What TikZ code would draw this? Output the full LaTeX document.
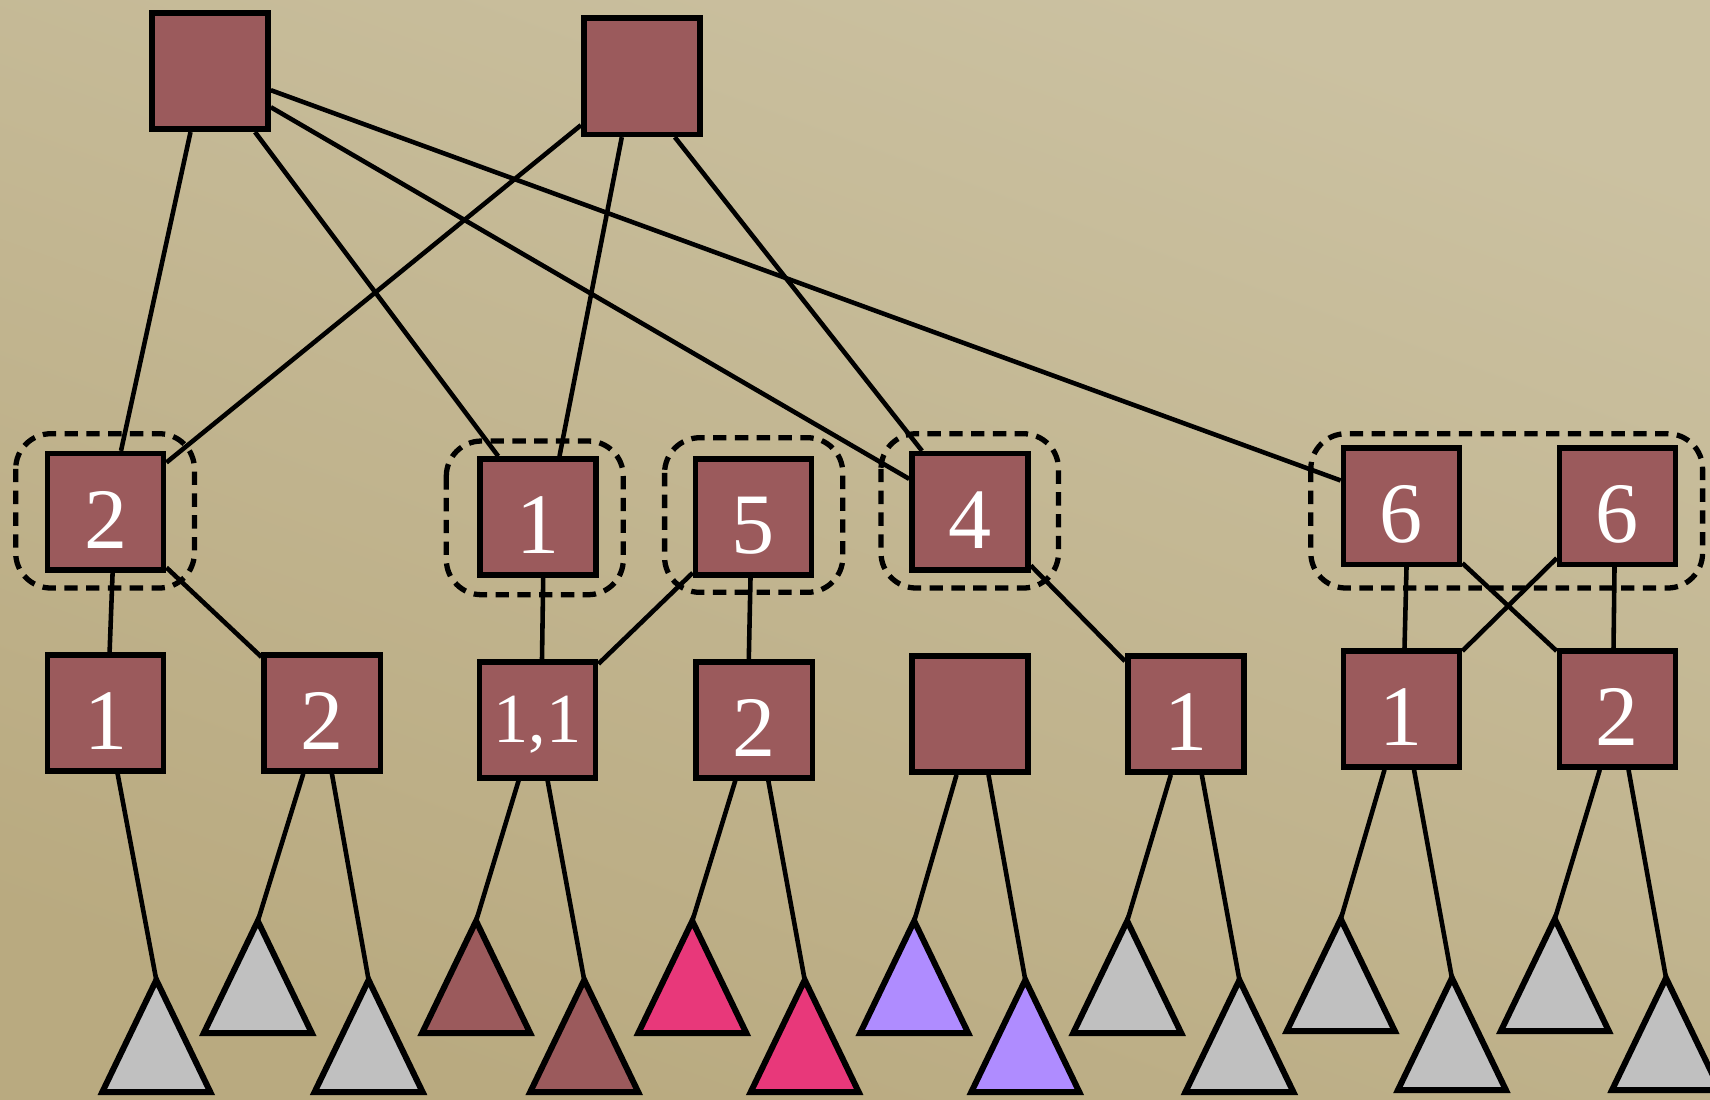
\documentclass[tikz,border=0pt]{standalone}
\usepackage{fontspec}
\setmainfont{Liberation Serif}
\usetikzlibrary{calc}
\definecolor{bgtop}{HTML}{CBC1A1}
\definecolor{bgbot}{HTML}{B9AA80}
\definecolor{boxred}{HTML}{9B5A5C}
\definecolor{trigray}{HTML}{C0C0C0}
\definecolor{tripink}{HTML}{E8387A}
\definecolor{tripurple}{HTML}{AF8CFF}
\begin{document}
\begin{tikzpicture}[x=0.01cm,y=-0.01cm,
  box/.style={draw=black, line width=1.6pt, fill=boxred, minimum size=1.16cm,
    inner sep=0pt, text=white, font=\fontsize{24.5}{24.5}\selectfont,
    text height=20.8pt, text depth=0pt},
  smalllabel/.style={font=\fontsize{20}{20}\selectfont, text height=13.2pt},
  edge/.style={draw=black, line width=1.3pt},
  tri/.style={draw=black, line width=1.7pt, line join=miter},
  group/.style={draw=black, line width=1.5pt, dash pattern=on 3.8pt off 2.4pt, rounded corners=10pt}]
\useasboundingbox (0,0) rectangle (1710,1099);
\shade[top color=bgtop, bottom color=bgbot, shading angle=-20] (0,0) rectangle (1710,1099);

% top nodes
\node[box] (A) at (210,71.2) {};
\node[box] (B) at (641.8,76.3) {};
% middle nodes
\node[box] (M2) at (105.6,511.7) {2};
\node[box] (M1) at (538.2,517) {1};
\node[box] (M5) at (753.5,517) {5};
\node[box] (M4) at (970,511.7) {4};
\node[box] (M6a) at (1401.5,506.3) {6};
\node[box] (M6b) at (1617.5,506.3) {6};
% lower nodes
\node[box] (L1) at (105.6,712.8) {1};
\node[box] (L2) at (322.3,712.8) {2};
\node[box,smalllabel] (L11) at (537.6,719.7) {1,1};
\node[box] (L2b) at (754.3,719.7) {2};
\node[box] (Le) at (970,714) {};
\node[box] (L1c) at (1185.8,714) {1};
\node[box] (L1d) at (1401.5,708.8) {1};
\node[box] (L2d) at (1617.5,708.8) {2};

% dashed groups
\draw[group] (15.7,433.7) rectangle (194.4,588);
\draw[group] (446.3,441) rectangle (623.3,594.7);
\draw[group] (664.6,437.7) rectangle (842.8,592.3);
\draw[group] (881,433.7) rectangle (1058.5,588);
\draw[group] (1310.8,433.7) rectangle (1702.6,588);

% top-level edges
\draw[edge] ($(A.south)+(-19.5,0)$) -- ($(M2.north)+(15.4,0)$);
\draw[edge] ($(A.south)+(45,0)$) -- ($(M1.north)+(-40,0)$);
\draw[edge] ($(A.east)+(0,36)$) -- ($(M4.north west)+(0,28)$);
\draw[edge] ($(A.east)+(0,19)$) -- ($(M6a.north west)+(0,35)$);
\draw[edge] ($(B.south west)+(0,-12)$) -- ($(M2.north east)+(0,11.6)$);
\draw[edge] ($(B.south)+(-20,0)$) -- ($(M1.north)+(21.3,0)$);
\draw[edge] ($(B.south)+(33,0)$) -- ($(M4.north)+(-48,0)$);

% middle-level edges
\draw[edge] ($(M2.south)+(7,0)$) -- ($(L1.north)+(4,0)$);
\draw[edge] ($(M2.south east)+(0,-5)$) -- ($(L2.north west)+(0,5)$);
\draw[edge] ($(M1.south)+(5,0)$) -- ($(L11.north)+(4.4,0)$);
\draw[edge] ($(M5.south west)+(0,-5)$) -- ($(L11.north east)+(0,5)$);
\draw[edge] ($(M5.south)+(-3,0)$) -- ($(L2b.north)+(-5.5,0)$);
\draw[edge] ($(M4.south east)+(0,-7)$) -- ($(L1c.north west)+(0,8)$);
\draw[edge] ($(M6a.south)+(5,0)$) -- ($(L1d.north)+(3,0)$);
\draw[edge] ($(M6a.south east)+(0,-4)$) -- ($(L2d.north west)+(0,3)$);
\draw[edge] ($(M6b.south west)+(0,-9)$) -- ($(L1d.north east)+(0,3)$);
\draw[edge] ($(M6b.south)+(-3,0)$) -- ($(L2d.north)+(-4,0)$);

% triangle apexes
\coordinate (T1) at (156.3,980);
\coordinate (T2) at (257.8,921);
\coordinate (T3) at (368.6,980);
\coordinate (T4) at (476.1,921);
\coordinate (T5) at (584.2,980);
\coordinate (T6) at (692.3,921);
\coordinate (T7) at (804.7,980);
\coordinate (T8) at (914.2,921);
\coordinate (T9) at (1025.3,980);
\coordinate (T10) at (1127.2,921);
\coordinate (T11) at (1239.4,980);
\coordinate (T12) at (1340.8,919);
\coordinate (T13) at (1451.9,978);
\coordinate (T14) at (1554.8,919);
\coordinate (T15) at (1666,978);

% leaf edges
\draw[edge] ($(L1.south)+(12,0)$) -- (T1);
\draw[edge] ($(L2.south)+(-19,0)$) -- (T2);
\draw[edge] ($(L2.south)+(9.6,0)$) -- (T3);
\draw[edge] ($(L11.south)+(-19,0)$) -- (T4);
\draw[edge] ($(L11.south)+(10,0)$) -- (T5);
\draw[edge] ($(L2b.south)+(-19,0)$) -- (T6);
\draw[edge] ($(L2b.south)+(14,0)$) -- (T7);
\draw[edge] ($(Le.south)+(-13.5,0)$) -- (T8);
\draw[edge] ($(Le.south)+(18.5,0)$) -- (T9);
\draw[edge] ($(L1c.south)+(-15,0)$) -- (T10);
\draw[edge] ($(L1c.south)+(16,0)$) -- (T11);
\draw[edge] ($(L1d.south)+(-17,0)$) -- (T12);
\draw[edge] ($(L1d.south)+(12.5,0)$) -- (T13);
\draw[edge] ($(L2d.south)+(-17.7,0)$) -- (T14);
\draw[edge] ($(L2d.south)+(11,0)$) -- (T15);

% triangles
\foreach \t/\c in {T1/trigray,T2/trigray,T3/trigray,T4/boxred,T5/boxred,T6/tripink,T7/tripink,
  T8/tripurple,T9/tripurple,T10/trigray,T11/trigray,T12/trigray,T13/trigray,T14/trigray,T15/trigray}
  \draw[tri, fill=\c] (\t) -- ++(-54,112) -- ++(108,0) -- cycle;
\end{tikzpicture}
\end{document}
